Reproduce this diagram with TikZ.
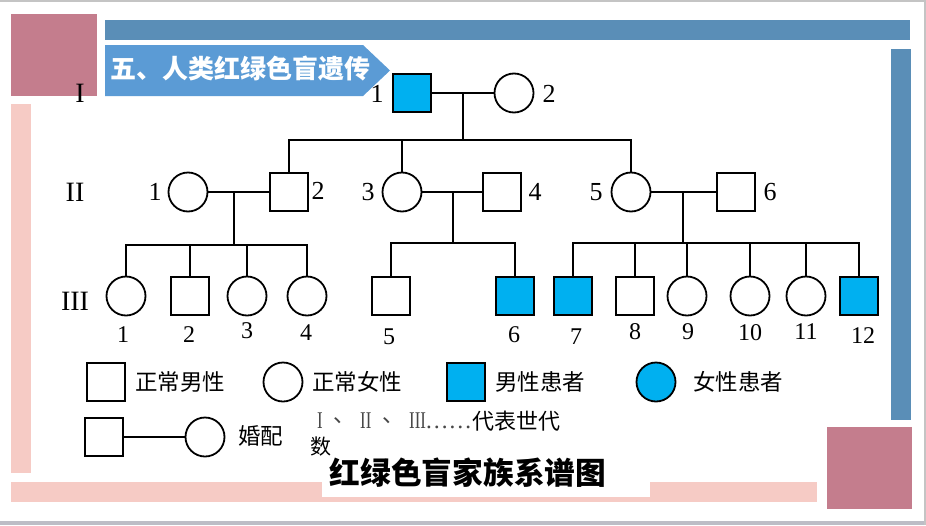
\documentclass[tikz,border=0pt]{standalone}
\usepackage{fontspec}
\usepackage{graphicx}
\setmainfont{Liberation Serif}
\newfontfamily\cjk{Noto Sans CJK SC}
\definecolor{mauve}{HTML}{C47D8D}
\definecolor{steel}{HTML}{5A8EB7}
\definecolor{arrowblue}{HTML}{5B9BD5}
\definecolor{pinkbar}{HTML}{F6CBC5}
\definecolor{patient}{HTML}{00B0F0}
\definecolor{bordergrey}{HTML}{C4C4C4}
\definecolor{bordergreyb}{HTML}{BDBDC6}
\definecolor{romangrey}{HTML}{474747}
\tikzset{
  male/.style={draw, rectangle, minimum size=38.5pt, inner sep=0pt, line width=1.8pt},
  female/.style={draw, circle, minimum size=39pt, inner sep=0pt, line width=1.8pt},
  ill/.style={fill=patient},
  link/.style={line width=2pt},
  numlab/.style={font=\fontsize{26}{28}\selectfont, inner sep=0pt},
  numlabs/.style={font=\fontsize{24}{26}\selectfont, inner sep=0pt},
  genlab/.style={font=\fontsize{28}{30}\selectfont, inner sep=0pt},
  legtext/.style={font=\cjk\fontsize{22.5}{25}\selectfont, inner sep=0pt, anchor=west},
  roman/.style={font=\fontsize{24}{26}\selectfont, text=romangrey, inner sep=0pt, anchor=west},
  romancjk/.style={font=\cjk\fontsize{22}{24}\selectfont, text=romangrey, inner sep=0pt, anchor=west},
}
\begin{document}
\begin{tikzpicture}[x=1pt,y=-1pt]
\useasboundingbox (0,0) rectangle (926,525);
\fill[white] (0,0) rectangle (926,525);
% frame
\fill[bordergrey] (0,0) rectangle (926,1.5);
\fill[bordergreyb] (0,520.5) rectangle (926,525);
\fill[bordergrey] (924,0) rectangle (926,525);
% decorations
\fill[mauve] (11,14) rectangle (97,96);
\fill[steel] (105,20) rectangle (910,40);
\fill[arrowblue] (105,45) -- (363,45) -- (390,70.5) -- (363,96) -- (105,96) -- cycle;
\node[text=white, font=\cjk\bfseries\fontsize{26}{28}\selectfont, inner sep=0pt] (title) at (240.5,69) {五、人类红绿色盲遗传};
\fill[pinkbar] (11,104) rectangle (31,473);
\fill[pinkbar] (11,482) rectangle (817,502);
\fill[steel] (891,49) rectangle (911,420);
\fill[mauve] (827,427) rectangle (912,509);
\fill[white] (322,455) rectangle (650,497);
\node[font=\cjk\bfseries\fontsize{30.7}{33}\selectfont, inner sep=0pt] (bottomtitle) at (468,473) {红绿色盲家族系谱图};

% generation labels
\node[genlab] (gI) at (80,93) {I};
\node[genlab] (gII) at (75,192) {II};
\node[genlab] (gIII) at (75,301) {III};

% generation I
\node[male, ill] (I1) at (412,93) {};
\node[female] (I2) at (514,93) {};
\node[numlab] (lI1) at (377,94) {1};
\node[numlab] (lI2) at (549,94) {2};

% generation II
\node[female] (II1) at (188,192) {};
\node[male] (II2) at (289,192) {};
\node[female] (II3) at (402,192) {};
\node[male] (II4) at (502,192) {};
\node[female] (II5) at (631,192) {};
\node[male] (II6) at (736,192) {};
\node[numlab] (lII1) at (155,192) {1};
\node[numlab] (lII2) at (318,191) {2};
\node[numlab] (lII3) at (368,192) {3};
\node[numlab] (lII4) at (535,192) {4};
\node[numlab] (lII5) at (596,192) {5};
\node[numlab] (lII6) at (770,192) {6};

% generation III
\node[female] (III1) at (126,296) {};
\node[male] (III2) at (190,296) {};
\node[female] (III3) at (247,296) {};
\node[female] (III4) at (307,296) {};
\node[male] (III5) at (391,296) {};
\node[male, ill] (III6) at (515,296) {};
\node[male, ill] (III7) at (573,296) {};
\node[male] (III8) at (635,296) {};
\node[female] (III9) at (687,296) {};
\node[female] (III10) at (750,296) {};
\node[female] (III11) at (806,296) {};
\node[male, ill] (III12) at (859,296) {};
\node[numlabs] (lIII1) at (123,335) {1};
\node[numlabs] (lIII2) at (189,335) {2};
\node[numlabs] (lIII3) at (247,331) {3};
\node[numlabs] (lIII4) at (306,333) {4};
\node[numlabs] (lIII5) at (389,337) {5};
\node[numlabs] (lIII6) at (514,335) {6};
\node[numlabs] (lIII7) at (576,337) {7};
\node[numlabs] (lIII8) at (635,332) {8};
\node[numlabs] (lIII9) at (688,332) {9};
\node[numlabs] (lIII10) at (750,333) {10};
\node[numlabs] (lIII11) at (806,332) {11};
\node[numlabs] (lIII12) at (863,336) {12};

% marriages and descent
\coordinate (m1) at (463,93);
\coordinate (s1) at (463,140);
\draw[link] (I1) -- (I2);
\draw[link] (m1) -- (s1);
\draw[link] (II2.north) |- (s1) -| (II5.north);
\draw[link] (s1) -| (II3.north);

\coordinate (m2) at (234,192);
\coordinate (s2) at (234,245);
\draw[link] (II1) -- (II2);
\draw[link] (m2) -- (s2);
\draw[link] (III1.north) |- (s2) -| (III4.north);
\draw[link] (s2) -| (III2.north);
\draw[link] (s2) -| (III3.north);

\coordinate (m3) at (453,192);
\coordinate (s3) at (453,243);
\draw[link] (II3) -- (II4);
\draw[link] (m3) -- (s3);
\draw[link] (III5.north) |- (s3) -| (III6.north);

\coordinate (m4) at (683,192);
\coordinate (s4) at (683,243);
\draw[link] (II5) -- (II6);
\draw[link] (m4) -- (s4);
\draw[link] (III7.north) |- (s4) -| (III12.north);
\draw[link] (s4) -| (III8.north);
\draw[link] (s4) -| (III9.north);
\draw[link] (s4) -| (III10.north);
\draw[link] (s4) -| (III11.north);

% legend
\node[male] (Lm) at (106,382) {};
\node[legtext] (Lmt) at (135,382) {正常男性};
\node[female] (Lf) at (283,382) {};
\node[legtext] (Lft) at (312,382) {正常女性};
\node[male, ill] (Lpm) at (466,382) {};
\node[legtext] (Lpmt) at (495,382) {男性患者};
\node[female, ill] (Lpf) at (656,382) {};
\node[legtext] (Lpft) at (693,382) {女性患者};
\node[male] (Lcm) at (104,437) {};
\node[female] (Lcf) at (205,437) {};
\draw[link] (Lcm) -- (Lcf);
\node[legtext] (Lct) at (238,436) {婚配};
\node[roman] (Lr1) at (317,421) {\scalebox{0.7}[1]{I}};
\node[romancjk] (Lc1) at (333,421) {、};
\node[roman] (Lr2) at (360,421) {\scalebox{0.7}[1]{II}};
\node[romancjk] (Lc2) at (382,421) {、};
\node[roman] (Lr3) at (409,421) {\scalebox{0.7}[1]{III}};
\node[roman, font=\fontsize{23.5}{26}\selectfont, anchor=base west] (Ldots) at (425,428) {……};
\node[legtext, font=\cjk\fontsize{22}{24}\selectfont] (Lgen) at (472,421) {代表世代};
\node[legtext, font=\cjk\fontsize{21}{23}\selectfont] (Lgen2) at (310,447) {数};
\end{tikzpicture}
\end{document}
